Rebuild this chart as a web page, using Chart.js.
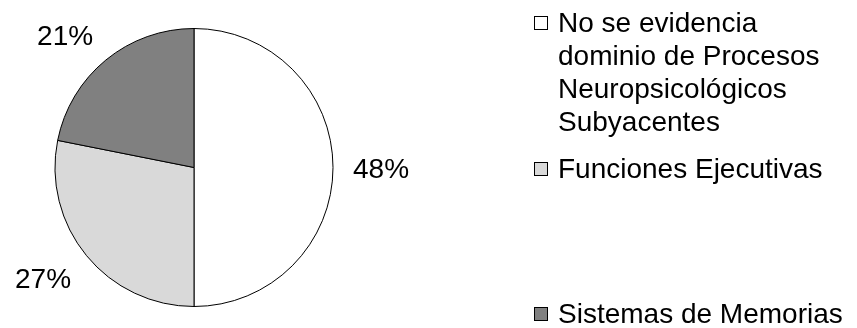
<!DOCTYPE html>
<html>
<head>
<meta charset="utf-8">
<script src="https://cdn.jsdelivr.net/npm/chart.js@4/dist/chart.umd.min.js"></script>
<style>
  html, body { margin: 0; padding: 0; background: #ffffff; }
  #wrap { position: relative; width: 857px; height: 328px; }
</style>
</head>
<body>
<div id="wrap"><canvas id="pie" width="857" height="328"></canvas></div>
<script>
// Category names (wrapped the way the legend shows them)
const categories = [
  ["No se evidencia", "dominio de Procesos", "Neuropsicológicos", "Subyacentes"],
  ["Funciones Ejecutivas"],
  ["Sistemas de Memorias"]
];
// Percentages per category
const values = [48, 27, 21];
// Text printed next to each slice
const valueLabels = ["48%", "27%", "21%"];
const sliceColors = ["#ffffff", "#d9d9d9", "#808080"];

const FONT = '"Liberation Sans", Arial, Helvetica, sans-serif';
const FONT_PX = 28;

// Percent labels placed just outside each slice, the near corner of the text
// box sitting on a ring a fixed distance beyond the rim.
const outsideLabels = {
  id: 'outsideLabels',
  afterDatasetsDraw(chart) {
    const ctx = chart.ctx;
    const meta = chart.getDatasetMeta(0);
    ctx.save();
    ctx.font = FONT_PX + 'px ' + FONT;
    ctx.fillStyle = '#000000';
    ctx.textBaseline = 'alphabetic';
    const capH = 20;
    meta.data.forEach((arc, i) => {
      const p = arc.getProps(['x', 'y', 'startAngle', 'endAngle', 'outerRadius'], true);
      const mid = (p.startAngle + p.endAngle) / 2;
      const dx = Math.cos(mid), dy = Math.sin(mid);
      const r = p.outerRadius + 20;
      const ax = p.x + dx * r, ay = p.y + dy * r;
      const text = valueLabels[i];
      const w = ctx.measureText(text).width;
      const sx = Math.max(-1, Math.min(1, dx * 3));
      const sy = Math.max(-1, Math.min(1, dy * 3));
      const cx = ax + sx * w / 2;
      const cy = ay + sy * capH / 2;
      ctx.textAlign = 'center';
      ctx.fillText(text, cx, cy + capH / 2);
    });
    ctx.restore();
  }
};

// Legend on the right: a bordered swatch and the wrapped category name,
// entries spaced in equal slots.
const sideLegend = {
  id: 'sideLegend',
  afterDraw(chart) {
    const ctx = chart.ctx;
    const ds = chart.data.datasets[0];
    const labels = chart.data.labels;
    const boxX = 534, textX = 558, firstBase = 32, lineH = 33, slotH = 145.5, box = 13;
    ctx.save();
    ctx.font = FONT_PX + 'px ' + FONT;
    ctx.textAlign = 'left';
    ctx.textBaseline = 'alphabetic';
    labels.forEach((lines, i) => {
      const base = firstBase + i * slotH;
      const by = Math.round(base - 9.5 - box / 2) + 0.5;
      ctx.fillStyle = ds.backgroundColor[i];
      ctx.fillRect(boxX + 0.5, by, box, box);
      ctx.strokeStyle = '#000000';
      ctx.lineWidth = 1;
      ctx.strokeRect(boxX + 0.5, by, box, box);
      ctx.fillStyle = '#000000';
      (Array.isArray(lines) ? lines : [lines]).forEach((ln, k) => {
        ctx.fillText(ln, textX, Math.round(base + k * lineH));
      });
    });
    ctx.restore();
  }
};

new Chart(document.getElementById('pie'), {
  type: 'pie',
  data: {
    labels: categories,
    datasets: [{
      data: values,
      backgroundColor: sliceColors,
      borderColor: '#000000',
      borderWidth: 1,
      radius: 139
    }]
  },
  options: {
    responsive: false,
    animation: false,
    events: [],
    layout: { padding: { left: 55, top: 28, right: 524, bottom: 21 } },
    plugins: {
      legend: { display: false },
      tooltip: { enabled: false }
    }
  },
  plugins: [outsideLabels, sideLegend]
});
</script>
</body>
</html>
